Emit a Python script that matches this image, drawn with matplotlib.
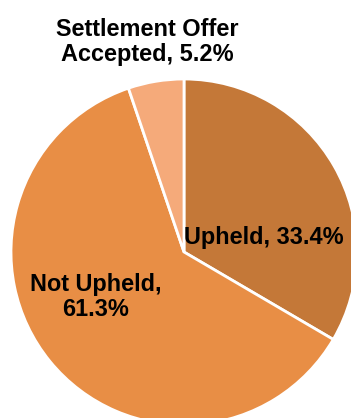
import matplotlib.pyplot as plt

plt.rcParams['font.family'] = ['Liberation Sans', 'DejaVu Sans']

# outcome shares, clockwise from 12 o'clock
outcomes = ['Upheld', 'Not Upheld', 'Settlement Offer\nAccepted']
shares = [33.4, 61.3, 5.2]
colors = ['#C47838', '#E88E45', '#F5AA7A']
label_text = ['Upheld, 33.4%', 'Not Upheld,\n61.3%', 'Settlement Offer\nAccepted, 5.2%']
# label anchors in pie units (radius = 1)
label_pos = [(0.46, 0.085), (-0.51, -0.26), (-0.21, 1.215)]

W, H = 351, 418
fig = plt.figure(figsize=(W / 100, H / 100), dpi=100)

# pie centre and radius in pixels; the pie runs off the right and bottom edges
cx, cy, r = 184, 252, 173
ax = fig.add_axes([(cx - r) / W, (H - cy - r) / H, 2 * r / W, 2 * r / H])
ax.pie(shares, colors=colors, startangle=90, counterclock=False, radius=1,
       wedgeprops=dict(edgecolor='white', linewidth=2))
ax.set_xlim(-1, 1)
ax.set_ylim(-1, 1)
ax.set_aspect('equal')
ax.axis('off')

for txt, (x, y) in zip(label_text, label_pos):
    ax.text(x, y, txt, ha='center', va='center', fontsize=16.9,
            fontweight='bold', color='black', linespacing=1.12, clip_on=False)

fig.savefig('out.png', dpi=100)
